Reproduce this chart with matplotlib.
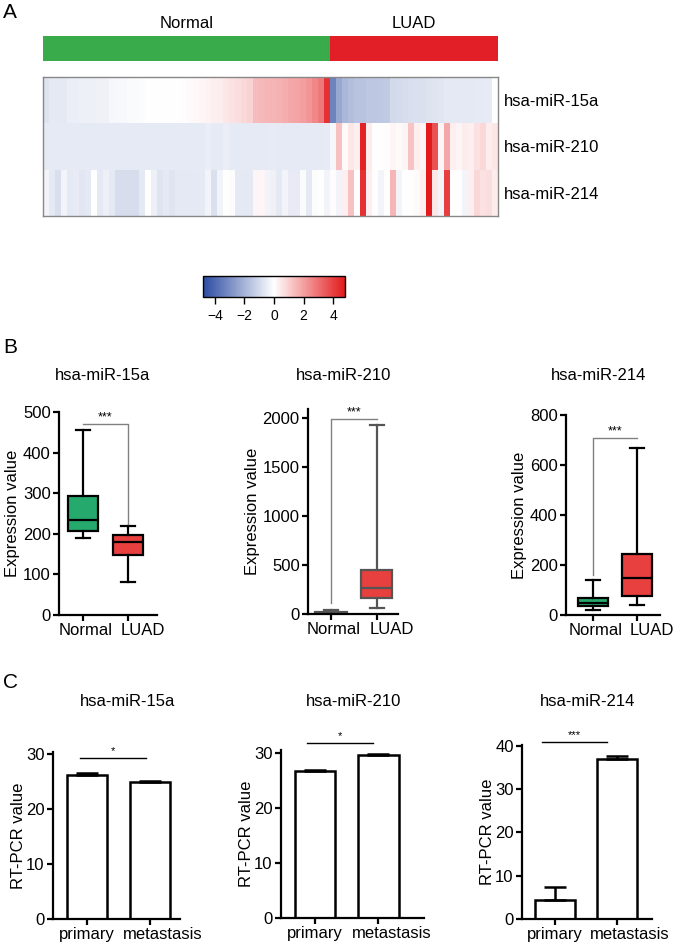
import numpy as np
import matplotlib
matplotlib.use("Agg")
import matplotlib.pyplot as plt
import matplotlib.transforms as mtrans
from matplotlib.colors import LinearSegmentedColormap, ListedColormap

plt.rcParams["font.family"] = ["Liberation Sans", "DejaVu Sans"]

W, H = 681, 944

genes = ["hsa-miR-15a", "hsa-miR-210", "hsa-miR-214"]
groups = ["Normal", "LUAD"]
n_normal = 48
n_luad = 28

# heatmap z-scores, one list per gene and group
mir15a_normal = [-0.75, -0.6, -0.6, -0.6, -0.45, -0.45, -0.4, -0.4, -0.4, -0.35, -0.35,
                 -0.2, -0.15, -0.15, -0.1, -0.1, -0.05, 0, 0, 0, 0, 0, 0, 0.05,
                 0.1, 0.12, 0.15, 0.25, 0.3, 0.35, 0.5, 0.6, 0.7, 0.8, 0.9,
                 1.4, 1.45, 1.5, 1.55, 1.6, 1.7, 1.8, 1.9, 2.0, 2.2, 2.5, 2.8, 4.3]
mir15a_luad = [-3.3, -2.3, -1.9, -1.7, -1.6, -1.6, -1.5, -1.5, -1.45, -1.4, -1.0, -0.95,
               -0.9, -0.85, -0.8, -0.8, -0.75, -0.7, -0.65, -0.6, -0.6, -0.6, -0.6, -0.6,
               -0.55, -0.55, -0.5, 0.0]
mir210_normal = [-0.55, -0.55, -0.55, -0.55, -0.55, -0.55, -0.55, -0.55, -0.55, -0.55,
                 -0.55, -0.55, -0.55, -0.55, -0.55, -0.55, -0.55, -0.55, -0.55, -0.55,
                 -0.55, -0.55, -0.55, -0.55, -0.55, -0.55, -0.55, -0.45, -0.55, -0.55,
                 -0.45, -0.55, -0.55, -0.55, -0.55, -0.55, -0.55, -0.55, -0.5, -0.55,
                 -0.55, -0.55, -0.55, -0.55, -0.55, -0.55, -0.55, -0.5]
mir210_luad = [-0.2, 1.3, 0.1, 0.5, 0.3, 4.6, 0.4, 0.0, 0.0, 0.05, 0.15, 0.1, 0.2, 1.2,
               0.3, 0.2, 4.8, 3.6, 0.2, 1.8, 0.3, 0.2, 0.4, 0.3, 0.6, 0.8, 0.4, 0.5]
mir214_normal = [-0.3, -0.6, -0.85, -0.3, -0.6, -0.5, -0.65, -0.6, 0.0, -0.6, -0.4, -0.6,
                 -0.9, -0.9, -0.9, -0.9, -0.6, 0.0, -0.4, -0.7, -0.6, -0.7, -0.6, -0.6,
                 -0.6, -0.6, -0.55, -0.3, -0.8, -0.3, 0.0, -0.05, -0.6, -0.6, -0.6, 0.2,
                 0.15, -0.3, -0.35, -0.6, -0.3, -0.5, -0.5, -0.1, -0.6, -0.05, 0.0, -0.3]
mir214_luad = [0.05, -0.3, 0.3, 1.3, 0.0, 4.3, 0.3, 0.0, -0.3, 0.0, 1.5, -0.3, 0.0, 0.0,
               0.1, 0.3, 4.8, 0.5, -0.3, 4.0, 0.0, 0.0, -0.3, 0.3, 0.8, 0.6, 0.7, 0.4]
cbar_ticks = [-4, -2, 0, 2, 4]

# box plot summaries: whisker low, q1, median, q3, whisker high
box_15a_normal = [190, 208, 235, 292, 455]
box_15a_luad = [82, 147, 180, 196, 220]
box_210_normal = [0, 3, 10, 18, 42]
box_210_luad = [60, 160, 270, 450, 1930]
box_214_normal = [20, 35, 50, 68, 140]
box_214_luad = [42, 78, 148, 245, 670]

# RT-PCR means and errors
pcr_labels = ["primary", "metastasis"]
pcr_15a = [26.2, 24.9]
pcr_15a_err = [0.3, 0.15]
pcr_210 = [26.7, 29.7]
pcr_210_err = [0.2, 0.15]
pcr_214 = [4.4, 36.9]
pcr_214_err = [2.9, 0.8]

fig = plt.figure(figsize=(W / 100, H / 100), dpi=100)


def add_ax(l, t, r, b):
    return fig.add_axes([l / W, 1 - b / H, (r - l) / W, (b - t) / H])


def ftext(x, y, s, **kw):
    fig.text(x / W, 1 - y / H, s, ha="center", va="center", **kw)


def shift_label(ax, i, dx_px):
    lab = ax.get_xticklabels()[i]
    lab.set_transform(lab.get_transform()
                      + mtrans.ScaledTranslation(dx_px / 100, 0, fig.dpi_scale_trans))


def style_axes(ax):
    for s in ["top", "right"]:
        ax.spines[s].set_visible(False)
    for s in ["left", "bottom"]:
        ax.spines[s].set_linewidth(1.6)
    ax.tick_params(labelsize=12, length=4, width=1.6, pad=2)


# ---- panel A ----
cmap = LinearSegmentedColormap.from_list("bwr2", ["#2b4ba1", "#ffffff", "#e31a1c"])
mat = np.array([mir15a_normal + mir15a_luad,
                mir210_normal + mir210_luad,
                mir214_normal + mir214_luad])

ax_grp = add_ax(43, 36, 498, 61)
codes = np.array([[0] * n_normal + [1] * n_luad])
ax_grp.imshow(codes, cmap=ListedColormap(["#39ab4a", "#e21f26"]), aspect="auto",
              interpolation="nearest")
ax_grp.axis("off")
ax_grp.text(n_normal / 2 - 0.5, -1.02, groups[0], ha="center", va="center", fontsize=12,
            clip_on=False)
ax_grp.text(n_normal + n_luad / 2 - 0.5, -1.02, groups[1], ha="center", va="center",
            fontsize=12, clip_on=False)

ax_hm = add_ax(43, 77, 498, 216)
im = ax_hm.imshow(mat, cmap=cmap, vmin=-4.8, vmax=4.8, aspect="auto", interpolation="nearest")
ax_hm.set_xticks([])
ax_hm.yaxis.tick_right()
ax_hm.set_yticks(range(len(genes)), genes)
ax_hm.tick_params(axis="y", length=0, labelsize=12, pad=4)
for s in ax_hm.spines.values():
    s.set_color("#888888")
    s.set_linewidth(1)

cax = add_ax(203, 276, 345, 297)
cb = fig.colorbar(im, cax=cax, orientation="horizontal", ticks=cbar_ticks)
cb.outline.set_linewidth(1)
cax.tick_params(labelsize=10, length=5, width=1)

ftext(10, 13, "A", fontsize=15)

# ---- panel B ----
ftext(10, 347, "B", fontsize=15)


def stat(v):
    return {"whislo": v[0], "q1": v[1], "med": v[2], "q3": v[3], "whishi": v[4], "fliers": []}


def box_panel(rect, normal, luad, xlim, ylim, yticks, edge, title, tx, bracket):
    ax = add_ax(*rect)
    lw = 1.6
    bp = ax.bxp([stat(normal), stat(luad)], positions=[0, 1], widths=0.68, capwidths=0.32,
                patch_artist=True, showfliers=False,
                boxprops=dict(edgecolor=edge, linewidth=lw),
                whiskerprops=dict(color=edge, linewidth=lw),
                capprops=dict(color=edge, linewidth=lw),
                medianprops=dict(color=edge, linewidth=lw))
    bp["boxes"][0].set_facecolor("#26a96c")
    bp["boxes"][1].set_facecolor("#e8403f")
    ax.set_xlim(*xlim)
    ax.set_ylim(*ylim)
    ax.set_yticks(yticks)
    ax.set_xticks([0, 1], groups)
    style_axes(ax)
    shift_label(ax, 0, 3)
    shift_label(ax, 1, 15)
    ax.set_ylabel("Expression value", fontsize=12, labelpad=2)
    bx, by = bracket
    ax.plot(bx, by, color="#808080", lw=1, clip_on=False)
    ax.text(0.5, max(by), "***", ha="center", va="bottom", fontsize=9)
    ftext(tx, 376, title, fontsize=12)
    return ax


box_panel((59, 412, 157, 615), box_15a_normal, box_15a_luad, (-0.53, 1.64), (0, 500),
          [0, 100, 200, 300, 400, 500], "black", genes[0], 103,
          ([0, 1, 1], [471, 471, 225]))
box_panel((308, 409, 398, 614), box_210_normal, box_210_luad, (-0.5, 1.46), (0, 2090),
          [0, 500, 1000, 1500, 2000], "#555555", genes[1], 344,
          ([0, 0, 1], [110, 1990, 1990]))
box_panel((566, 415, 660, 615), box_214_normal, box_214_luad, (-0.61, 1.52), (0, 800),
          [0, 200, 400, 600, 800], "black", genes[2], 599,
          ([0, 0, 1], [160, 709, 709]))

# ---- panel C ----
ftext(10, 683, "C", fontsize=15)


def bar_panel(rect, vals, errs, xlim, ylim, yticks, title, tx, bracket, stars):
    ax = add_ax(*rect)
    x = np.arange(len(pcr_labels))
    ax.bar(x, vals, width=0.64, color="white", edgecolor="black", linewidth=1.8)
    ax.errorbar(x, vals, yerr=[[0] * len(errs), errs], fmt="none", ecolor="black",
                elinewidth=1.8, capsize=8, capthick=1.8)
    ax.set_xlim(*xlim)
    ax.set_ylim(*ylim)
    ax.set_yticks(yticks)
    ax.set_xticks(x, pcr_labels)
    style_axes(ax)
    shift_label(ax, 1, 13)
    ax.set_ylabel("RT-PCR value", fontsize=12, labelpad=0)
    bx, by = bracket
    ax.plot(bx, [by, by], color="black", lw=1, clip_on=False)
    ax.text(np.mean(bx), by + (ylim[1] - ylim[0]) * 0.01, stars, ha="center", va="bottom",
            fontsize=8)
    ftext(tx, 702, title, fontsize=12)
    return ax


bar_panel((53, 752, 180, 919), pcr_15a, pcr_15a_err, (-0.54, 1.48), (0, 30.3),
          [0, 10, 20, 30], genes[0], 128, ([-0.11, 0.94], 29.2), "*")
bar_panel((281, 750, 424, 918), pcr_210, pcr_210_err, (-0.535, 1.72), (0, 30.6),
          [0, 10, 20, 30], genes[1], 354, ([-0.13, 0.91], 31.9), "*")
bar_panel((522, 745, 652, 919), pcr_214, pcr_214_err, (-0.53, 1.56), (0, 40.2),
          [0, 10, 20, 30, 40], genes[2], 588, ([-0.21, 0.84], 40.9), "***")

fig.savefig("out.png", dpi=100)
